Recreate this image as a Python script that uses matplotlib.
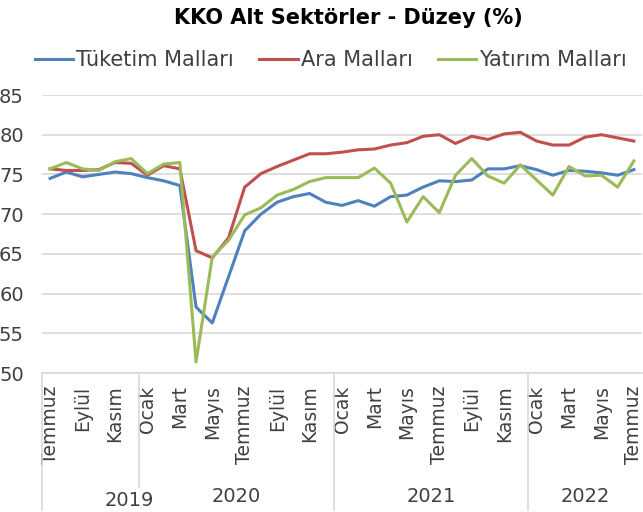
import matplotlib
matplotlib.use("Agg")
import matplotlib.pyplot as plt
import matplotlib.transforms as mtransforms

# monthly data, Temmuz 2019 - Temmuz 2022
years = [2019] * 6 + [2020] * 12 + [2021] * 12 + [2022] * 7
tick_labels = ["Temmuz", "Eylül", "Kasım", "Ocak", "Mart", "Mayıs", "Temmuz", "Eylül", "Kasım",
               "Ocak", "Mart", "Mayıs", "Temmuz", "Eylül", "Kasım", "Ocak", "Mart", "Mayıs", "Temmuz"]

tuketim = [74.5, 75.3, 74.7, 75.0, 75.3, 75.1, 74.6, 74.2, 73.6,
           58.3, 56.3, 62.1, 67.9, 70.0, 71.5, 72.2, 72.6, 71.5, 71.1,
           71.7, 71.0, 72.2, 72.4, 73.4, 74.2, 74.1, 74.3, 75.7, 75.7,
           76.1, 75.6, 74.9, 75.5, 75.4, 75.2, 74.9, 75.6]
ara = [75.7, 75.5, 75.5, 75.6, 76.5, 76.4, 74.9, 76.1, 75.7,
       65.4, 64.5, 67.0, 73.4, 75.1, 76.0, 76.8, 77.6, 77.6, 77.8,
       78.1, 78.2, 78.7, 79.0, 79.8, 80.0, 78.9, 79.8, 79.4, 80.1,
       80.3, 79.2, 78.7, 78.7, 79.7, 80.0, 79.6, 79.2]
yatirim = [75.7, 76.5, 75.7, 75.5, 76.6, 77.0, 75.1, 76.3, 76.5,
           51.4, 64.6, 66.7, 69.9, 70.8, 72.4, 73.1, 74.1, 74.6, 74.6,
           74.6, 75.8, 73.9, 69.0, 72.2, 70.2, 74.9, 77.0, 74.8, 73.9,
           76.2, 74.3, 72.4, 76.0, 74.8, 74.9, 73.4, 76.7]

series = [("Tüketim Malları", tuketim, "#4F81BD"),
          ("Ara Malları", ara, "#C0504D"),
          ("Yatırım Malları", yatirim, "#9BBB59")]

plt.rcParams["font.family"] = ["DejaVu Sans"]
txt = "#404040"
grid_c = "#D9D9D9"

fig = plt.figure(figsize=(6.43, 5.12), dpi=100)
ax = fig.add_axes([42 / 643, 1 - 373 / 512, 600 / 643, 278 / 512])

x = list(range(len(years)))
for name, vals, col in series:
    ax.plot(x, vals, color=col, lw=2.2, label=name, solid_joinstyle="round")

ax.set_xlim(-0.5, len(years) - 0.5)
ax.set_ylim(50, 85)
ax.set_yticks(range(50, 90, 5))
ax.yaxis.grid(True, color=grid_c, lw=1.2)
ax.set_axisbelow(True)
for s in ["left", "right", "top"]:
    ax.spines[s].set_visible(False)
ax.spines["bottom"].set_color(grid_c)
ax.spines["bottom"].set_linewidth(1.2)

ax.set_xticks(x[::2])
ax.set_xticklabels(tick_labels, rotation=90, fontsize=13.5, color=txt)
ax.tick_params(axis="x", length=0, pad=9)
ax.tick_params(axis="y", length=0, pad=13, labelsize=14, labelcolor=txt)

# year groups below month labels
trans = mtransforms.blended_transform_factory(ax.transData, ax.transAxes)
px = 1 / 278
bounds = [i - 0.5 for i in range(len(years)) if i == 0 or years[i] != years[i - 1]]
for b in bounds:
    depth = 114 if b == 5.5 else 137
    ax.plot([b, b], [0, -depth * px], color=grid_c, lw=1.2, transform=trans, clip_on=False)

for yr in sorted(set(years)):
    idx = [i for i, y in enumerate(years) if y == yr]
    cx = (idx[0] + idx[-1]) / 2
    dy = 123
    if yr == 2019:
        cx, dy = 4.9, 128
    ax.text(cx, -dy * px, str(yr), transform=trans, ha="center", va="center",
            fontsize=14, color=txt)

fig.text(348 / 643, 1 - 18 / 512, "KKO Alt Sektörler - Düzey (%)", ha="center", va="center",
         fontsize=15, fontweight="bold", color="black")

fig.legend(loc="center", bbox_to_anchor=(331 / 643, 1 - 60 / 512), ncol=3, frameon=False,
           fontsize=15, handlelength=1.85, handletextpad=0.15, columnspacing=1.2,
           labelcolor=txt, borderaxespad=0)

fig.savefig("out.png", dpi=100)
